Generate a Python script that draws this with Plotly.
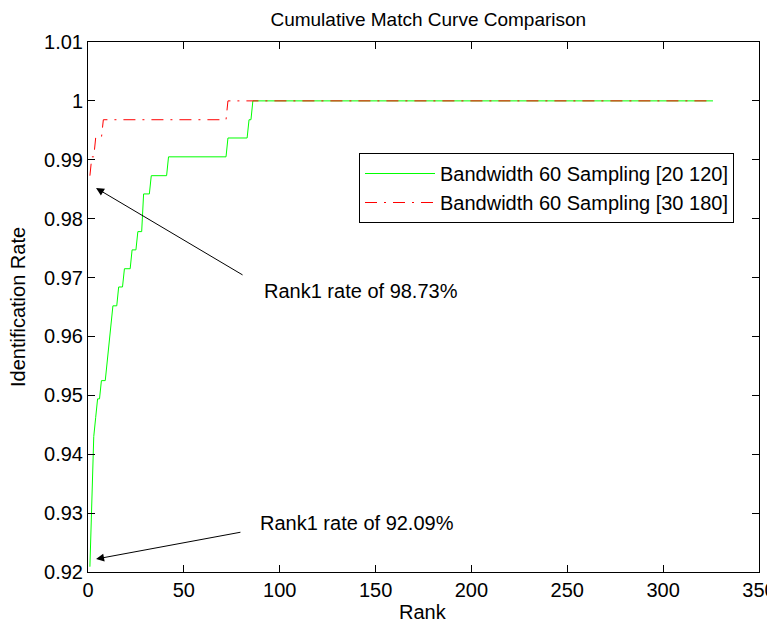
import plotly.graph_objects as go

# Data (rank, identification rate) at each corner of the curves
ranks_20_120 = [1, 2, 3, 4, 5, 6, 7, 9, 10, 11, 12, 13, 15, 16, 18, 19, 22, 23, 25,
                26, 28, 29, 32, 33, 41, 42, 72, 73, 83, 84, 85, 86, 326]
rates_20_120 = [0.9209, 0.9304, 0.9430, 0.9462, 0.9494, 0.9494, 0.9525, 0.9525,
                0.9557, 0.9589, 0.9620, 0.9652, 0.9652, 0.9684, 0.9684, 0.9715,
                0.9715, 0.9747, 0.9747, 0.9778, 0.9778, 0.9842, 0.9842, 0.9873,
                0.9873, 0.9905, 0.9905, 0.9937, 0.9937, 0.9968, 0.9968, 1.0, 1.0]

ranks_30_180 = [1, 2, 3, 4, 7, 8, 72, 73, 326]
rates_30_180 = [0.9873, 0.9905, 0.9905, 0.9937, 0.9937, 0.9968, 0.9968, 1.0, 1.0]

x_ticks = [0, 50, 100, 150, 200, 250, 300, 350]
y_ticks = [0.92, 0.93, 0.94, 0.95, 0.96, 0.97, 0.98, 0.99, 1.0, 1.01]
y_tick_labels = ["0.92", "0.93", "0.94", "0.95", "0.96", "0.97", "0.98", "0.99", "1", "1.01"]

series_names = ["Bandwidth 60 Sampling [20 120]", "Bandwidth 60 Sampling [30 180]"]
notes = ["Rank1 rate of 98.73%", "Rank1 rate of 92.09%"]
title_text = "Cumulative Match Curve Comparison"
x_title = "Rank"
y_title = "Identification Rate"

FONT = "Liberation Sans, Arial, sans-serif"
FS = 20

# The page places the figure 8px in from the top-left corner, so the figure is sized to fit.
W, H = 767, 616
ML, MR, MT, MB = 80, 16, 34, 52
PW, PH = W - ML - MR, H - MT - MB

fig = go.Figure()
fig.add_trace(go.Scatter(x=ranks_20_120, y=rates_20_120, mode="lines",
                         name=series_names[0],
                         line=dict(color="#00ff00", width=1)))
fig.add_trace(go.Scatter(x=ranks_30_180, y=rates_30_180, mode="lines",
                         name=series_names[1],
                         line=dict(color="#ff0000", width=1, dash="12px,7px,2px,7px")))

# Arrows
fig.add_annotation(x=4.2, y=0.9852, ax=81.4, ay=0.9703, xref="x", yref="y",
                   axref="x", ayref="y", text="", showarrow=True,
                   arrowhead=2, arrowsize=1.6, arrowwidth=1, arrowcolor="black")
fig.add_annotation(x=4.2, y=0.9222, ax=80.3, ay=0.9268, xref="x", yref="y",
                   axref="x", ayref="y", text="", showarrow=True,
                   arrowhead=2, arrowsize=1.6, arrowwidth=1, arrowcolor="black")
# Notes
fig.add_annotation(x=90.8, y=0.9677, xref="x", yref="y", text=notes[0],
                   showarrow=False, xanchor="left", yanchor="middle",
                   font=dict(family=FONT, size=FS, color="black"))
fig.add_annotation(x=88.7, y=0.9283, xref="x", yref="y", text=notes[1],
                   showarrow=False, xanchor="left", yanchor="middle",
                   font=dict(family=FONT, size=FS, color="black"))

# Axis titles
fig.add_annotation(x=0.499, y=-(604 - (H - MB)) / PH, xref="paper", yref="paper",
                   text=x_title, showarrow=False, xanchor="center", yanchor="middle",
                   font=dict(family=FONT, size=FS, color="black"))
fig.add_annotation(x=(10 - ML) / PW, y=0.5, xref="paper", yref="paper",
                   text=y_title, showarrow=False, xanchor="center", yanchor="middle",
                   textangle=-90, font=dict(family=FONT, size=FS, color="black"))

axis_common = dict(showline=True, linecolor="black", linewidth=1, mirror="ticks",
                   ticks="inside", ticklen=7, tickcolor="black", showgrid=False,
                   zeroline=False, automargin=False, ticklabeloverflow="allow",
                   tickfont=dict(family=FONT, size=FS, color="black"))

fig.update_xaxes(range=[0, 350], tickvals=x_ticks, **axis_common)
fig.update_yaxes(range=[0.92, 1.01], tickvals=y_ticks, ticktext=y_tick_labels,
                 **axis_common)

fig.update_layout(
    width=W, height=H,
    margin=dict(l=ML, r=MR, t=MT, b=MB, autoexpand=False),
    paper_bgcolor="white", plot_bgcolor="white",
    font=dict(family=FONT, size=FS, color="black"),
    title=dict(text=title_text, x=0.548, xanchor="center",
               y=1 - 11 / H, yanchor="middle", yref="container",
               font=dict(family=FONT, size=19, color="black")),
    legend=dict(x=(359 - 88) / 671, y=1 - (153 - 42) / 530, xanchor="left", yanchor="top",
                bordercolor="black", borderwidth=1, bgcolor="white",
                font=dict(family=FONT, size=FS, color="black"),
                itemwidth=70, tracegroupgap=0),
    showlegend=True,
)

fig.write_html("out.html")
